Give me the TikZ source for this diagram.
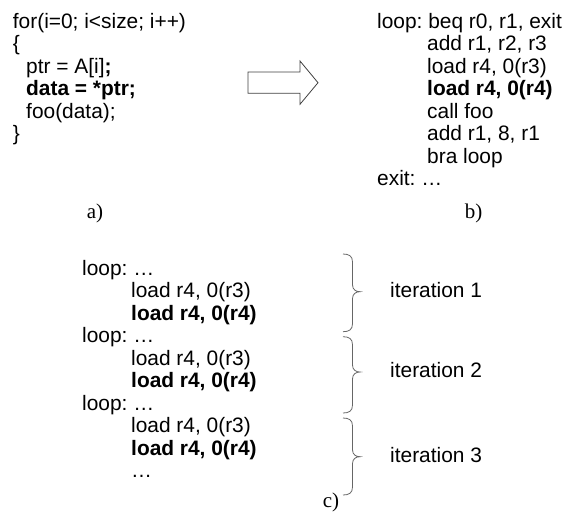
\documentclass[tikz,border=0pt]{standalone}
\usepackage{fontspec}
\setmainfont{Liberation Sans}
\newfontfamily\labelfont{Liberation Serif}
\frenchspacing
\newcommand\iterbrace[3]{%
  \draw[bracestroke] (343,#1) .. controls (349,#1) and (352.5,#1+2) .. (352.5,#1+8)
    -- (352.5,#2-7) .. controls (352.5,#2-2) and (356,#2) .. (360,#2)
    .. controls (356,#2) and (352.5,#2+2) .. (352.5,#2+7)
    -- (352.5,#3-8) .. controls (352.5,#3-2) and (349,#3) .. (343,#3);}
\begin{document}
\begin{tikzpicture}[x=1pt,y=-1pt,
  code/.style={anchor=base west,inner sep=0pt,font=\fontsize{20.9}{22.5}\selectfont\frenchspacing},
  bcode/.style={anchor=base west,inner sep=0pt,font=\fontsize{20.9}{22.5}\selectfont\bfseries\frenchspacing},
  lab/.style={anchor=base,inner sep=0pt,font=\labelfont\fontsize{21}{22.5}\selectfont},
  bracestroke/.style={draw=black!60,line width=0.8pt},
  arrowshape/.style={draw=black!75,line width=0.8pt,fill=white}]
\useasboundingbox (0,0) rectangle (565,515);
% a) source code
\node[code]  (a1) at (12.7,28)   {for(i=0; i<size; i++)};
\node[code]  (a2) at (12.7,50.5) {\{};
\node[code]  (a3) at (26,73)     {ptr = A[i]\textbf{;}};
\node[bcode] (a4) at (26,95.5)   {data = *ptr;};
\node[code]  (a5) at (26,118)    {foo(data);};
\node[code]  (a6) at (12.7,140.5){\}};
\node[lab]   (la) at (95,218)    {a)};
% arrow
\draw[arrowshape] (248,72) -- (300,72) -- (300,61) -- (318,82.7) -- (300,104.3)
  -- (300,93.3) -- (248,93.3) -- cycle;
% b) assembly
\node[code]  (b1) at (377,28)    {loop: beq r0, r1, exit};
\node[code]  (b2) at (427,50.5)  {add r1, r2, r3};
\node[code]  (b3) at (427,73)    {load r4, 0(r3)};
\node[bcode] (b4) at (427,95.5)  {load r4, 0(r4)};
\node[code]  (b5) at (427,118)   {call foo};
\node[code]  (b6) at (427,140.5) {add r1, 8, r1};
\node[code]  (b7) at (427,163)   {bra loop};
\node[code]  (b8) at (377,185.5) {exit: …};
\node[lab]   (lb) at (473.5,218) {b)};
% c) unrolled
\node[code]  (c1) at (82,275)    {loop: …};
\node[code]  (c2) at (131,297.5) {load r4, 0(r3)};
\node[bcode] (c3) at (131,320)   {load r4, 0(r4)};
\node[code]  (c4) at (82,342.5)  {loop: …};
\node[code]  (c5) at (131,365)   {load r4, 0(r3)};
\node[bcode] (c6) at (131,387.5) {load r4, 0(r4)};
\node[code]  (c7) at (82,410)    {loop: …};
\node[code]  (c8) at (131,432.5) {load r4, 0(r3)};
\node[bcode] (c9) at (131,455)   {load r4, 0(r4)};
\node[code]  (c10) at (131,477.5){…};
\node[lab]   (lc) at (331,507)   {c)};
% braces and iteration labels
\iterbrace{254}{291.7}{331.7}
\iterbrace{336.7}{372}{413}
\iterbrace{418}{456.7}{495}
\node[code]  (i1) at (390,297.5) {iteration 1};
\node[code]  (i2) at (390,377.5) {iteration 2};
\node[code]  (i3) at (390,462.5) {iteration 3};
\end{tikzpicture}
\end{document}
